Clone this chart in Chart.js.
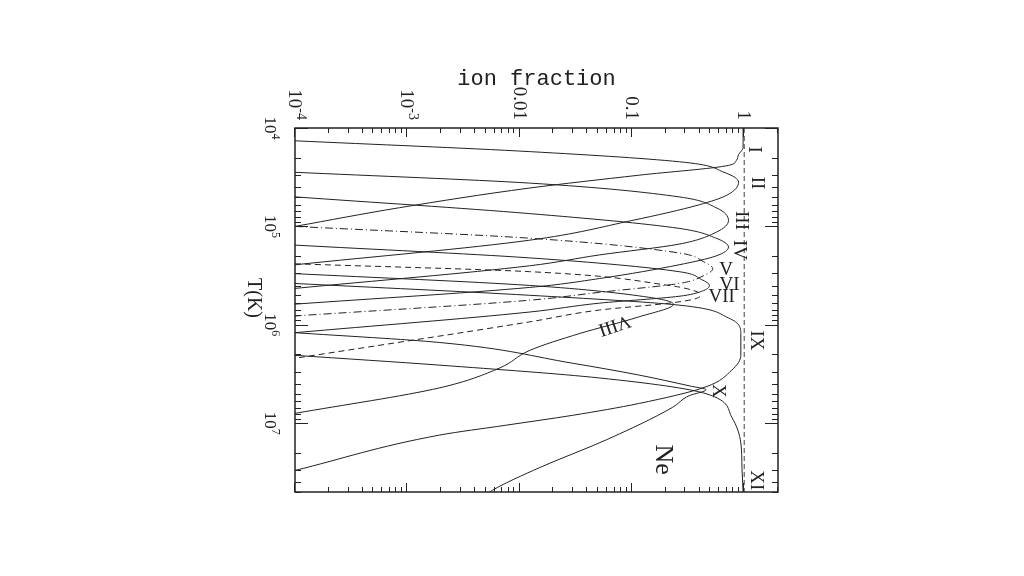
<!DOCTYPE html>
<html>
<head>
<meta charset="utf-8">
<script src="https://cdn.jsdelivr.net/npm/chart.js@4.4.0/dist/chart.umd.min.js"></script>
<style>
  html, body { margin: 0; padding: 0; background: #fff; }
  #wrap { position: relative; width: 1024px; height: 576px; overflow: hidden; }
  /* the figure is drawn landscape-rotated: T runs down the page, ion fraction across */
  #chart { position: absolute; left: 0; top: 0; transform-origin: 0 0; transform: translate(1024px, 0) rotate(90deg); }
</style>
</head>
<body>
<div id="wrap"><canvas id="chart" width="576" height="1024"></canvas></div>
<script>
// Ne ionization balance as log10(T) and log10(ion fraction)
const logT_I    = [4.00, 4.20, 4.27, 4.33, 4.38, 4.48, 4.61, 4.81, 5.00];
const logF_I    = [-0.01, -0.01, -0.05, -0.07, -0.14, -0.94, -1.91, -3.07, -4.0];
const logT_II   = [4.13, 4.24, 4.35, 4.45, 4.55, 4.68, 4.78, 4.94, 5.14, 5.39];
const logF_II   = [-4.0, -1.91, -0.52, -0.18, -0.05, -0.15, -0.40, -1.00, -1.91, -4.0];
const logT_III  = [4.45, 4.56, 4.70, 4.81, 4.94, 5.06, 5.18, 5.29, 5.40, 5.63];
const logF_III  = [-4.0, -1.91, -0.58, -0.25, -0.14, -0.25, -0.58, -1.29, -1.91, -4.0];
const logT_IV   = [4.70, 4.87, 5.02, 5.12, 5.21, 5.30, 5.39, 5.53, 5.62, 5.79];
const logF_IV   = [-4.0, -1.91, -0.58, -0.25, -0.14, -0.25, -0.58, -1.29, -1.91, -4.0];
const logT_V    = [5.00, 5.12, 5.27, 5.36, 5.43, 5.50, 5.58, 5.67, 5.75, 5.91];
const logF_V    = [-4.0, -1.91, -0.58, -0.36, -0.28, -0.36, -0.58, -1.29, -1.91, -4.0];
const logT_VI   = [5.19, 5.32, 5.46, 5.54, 5.60, 5.66, 5.71, 5.78, 5.87, 6.08];
const logF_VI   = [-4.0, -1.91, -0.58, -0.38, -0.31, -0.38, -0.58, -1.29, -1.91, -4.0];
const logT_VII  = [5.38, 5.46, 5.60, 5.66, 5.70, 5.74, 5.78, 5.85, 5.97, 6.34];
const logF_VII  = [-4.0, -1.91, -0.67, -0.43, -0.39, -0.45, -0.67, -1.29, -1.91, -4.0];
const logT_VIII = [5.48, 5.60, 5.72, 5.79, 5.92, 6.09, 6.26, 6.44, 6.64, 6.90];
const logF_VIII = [-4.0, -1.91, -0.85, -0.63, -0.94, -1.47, -1.91, -2.18, -2.71, -4.0];
const logT_IX   = [5.58, 5.70, 5.80, 5.93, 6.09, 6.31, 6.46, 6.63, 6.80, 6.92, 7.02, 7.12, 7.48];
const logF_IX   = [-4.0, -1.91, -0.58, -0.14, -0.03, -0.03, -0.11, -0.34, -0.94, -1.53, -2.12, -2.71, -4.0];
const logT_X    = [6.08, 6.18, 6.39, 6.51, 6.62, 6.66, 6.72, 6.84, 7.17, 7.45, 7.68, 7.78];
const logF_X    = [-4.0, -2.71, -1.53, -0.94, -0.49, -0.34, -0.49, -0.64, -1.23, -1.82, -2.24, -2.36];
const logT_XI   = [6.31, 6.41, 6.54, 6.70, 6.94, 7.20, 7.45, 7.70];
const logF_XI   = [-4.0, -2.71, -1.29, -0.34, -0.11, -0.03, -0.02, -0.01];

const ionNames = ['I', 'II', 'III', 'IV', 'V', 'VI', 'VII', 'VIII', 'IX', 'X', 'XI'];
const ionLogT = [logT_I, logT_II, logT_III, logT_IV, logT_V, logT_VI, logT_VII, logT_VIII, logT_IX, logT_X, logT_XI];
const ionLogF = [logF_I, logF_II, logF_III, logF_IV, logF_V, logF_VI, logF_VII, logF_VIII, logF_IX, logF_X, logF_XI];
const ionDash = { V: [8, 3, 1, 3], VII: [6, 4] };

// axis ranges and tick labels
const tMin = 1e4, tMax = 5e7;
const fMin = 1e-4, fMax = 2;
const tLabelExps = ['4', '5', '6', '7'];
const fTickValues = [1e-4, 1e-3, 0.01, 0.1, 1];
const fTickBases = ['10', '10', '0.01', '0.1', '1'];
const fTickExps = ['-4', '-3', '', '', ''];

// label positions: [name, log10 T, ion fraction, rotation in degrees]
const ionLabels = [
  ['I', 4.22, 1.22, 0], ['II', 4.56, 1.29, 0], ['III', 4.94, 0.93, 0],
  ['IV', 5.24, 0.90, 0], ['V', 5.44, 0.69, -90], ['VI', 5.60, 0.74, -90],
  ['VII', 5.72, 0.63, -90], ['VIII', 6.00, 0.07, 72], ['IX', 6.16, 1.27, 0],
  ['X', 6.67, 0.59, 0], ['XI', 7.58, 1.27, 0]
];
const elementLabel = ['Ne', 7.37, 0.19];

const datasets = ionNames.map((name, k) => ({
  label: 'Ne ' + name,
  data: ionLogT[k].map((t, i) => ({ x: 10 ** t, y: 10 ** ionLogF[k][i] })),
  borderColor: '#222',
  borderWidth: 1,
  borderDash: ionDash[name] || [],
  pointRadius: 0,
  cubicInterpolationMode: 'monotone',
  fill: false
}));
datasets.push({
  label: 'unity',
  data: [{ x: tMin, y: 1 }, { x: tMax, y: 1 }],
  borderColor: '#444',
  borderWidth: 1,
  borderDash: [5, 3],
  pointRadius: 0
});

function drawPow(ctx, base, exp, x, y, size, align) {
  ctx.font = size + 'px "Liberation Serif"';
  const wb = ctx.measureText(base).width;
  ctx.font = Math.round(size * 0.72) + 'px "Liberation Serif"';
  const we = exp ? ctx.measureText(exp).width : 0;
  const w = wb + we;
  let x0 = align === 'right' ? x - w : x - w / 2;
  ctx.textAlign = 'left';
  ctx.font = size + 'px "Liberation Serif"';
  ctx.fillText(base, x0, y);
  if (exp) {
    ctx.font = Math.round(size * 0.72) + 'px "Liberation Serif"';
    ctx.fillText(exp, x0 + wb, y - size * 0.42);
  }
}

const framePlugin = {
  id: 'framePlugin',
  afterDatasetsDraw(chart) {
    const { ctx, chartArea: a, scales: { x, y } } = chart;
    ctx.save();
    ctx.strokeStyle = '#222';
    ctx.fillStyle = '#222';
    ctx.lineWidth = 1.5;
    ctx.strokeRect(a.left, a.top, a.right - a.left, a.bottom - a.top);
    ctx.lineWidth = 1;
    ctx.beginPath();
    // temperature ticks on both long edges
    for (let d = 4; d <= 7; d++) {
      for (let m = 1; m <= 9; m++) {
        const v = m * 10 ** d;
        if (v > tMax) break;
        const px = Math.round(x.getPixelForValue(v)) + 0.5;
        const len = m === 1 ? 13 : 6;
        ctx.moveTo(px, a.bottom); ctx.lineTo(px, a.bottom - len);
        ctx.moveTo(px, a.top); ctx.lineTo(px, a.top + len);
      }
    }
    // fraction ticks
    for (let d = -4; d <= 0; d++) {
      for (let m = 1; m <= 9; m++) {
        const v = m * 10 ** d;
        if (v > fMax) break;
        const py = Math.round(y.getPixelForValue(v)) + 0.5;
        const len = m === 1 ? 9 : 5;
        ctx.moveTo(a.left, py); ctx.lineTo(a.left + len, py);
        ctx.moveTo(a.right, py); ctx.lineTo(a.right - len, py);
      }
    }
    ctx.stroke();

    // tick labels
    ctx.textBaseline = 'alphabetic';
    tLabelExps.forEach(e => {
      const px = x.getPixelForValue(10 ** Number(e));
      drawPow(ctx, '10', e, px, a.bottom + 30, 17, 'center');
    });
    fTickValues.forEach((v, i) => {
      const py = y.getPixelForValue(v);
      drawPow(ctx, fTickBases[i], fTickExps[i], a.left - 8, py + 6, 19, 'right');
    });

    // axis titles
    ctx.textAlign = 'center';
    ctx.textBaseline = 'middle';
    ctx.font = '20px "Liberation Serif"';
    ctx.fillText('T(K)', 298, a.bottom + 42);
    ctx.save();
    ctx.translate(79, (a.top + a.bottom) / 2);
    ctx.rotate(-Math.PI / 2);
    ctx.font = '22px "Liberation Mono"';
    ctx.fillText('ion fraction', 0, 0);
    ctx.restore();

    // ion labels
    ctx.font = '19px "Liberation Serif"';
    ionLabels.forEach(([name, lt, f, rot]) => {
      ctx.save();
      ctx.translate(x.getPixelForValue(10 ** lt), y.getPixelForValue(f));
      ctx.rotate(rot * Math.PI / 180);
      ctx.fillText(name, 0, 0);
      ctx.restore();
    });
    ctx.font = '26px "Liberation Serif"';
    ctx.fillText(elementLabel[0], x.getPixelForValue(10 ** elementLabel[1]), y.getPixelForValue(elementLabel[2]));
    ctx.restore();
  }
};

new Chart(document.getElementById('chart'), {
  type: 'line',
  data: { datasets },
  options: {
    responsive: false,
    animation: false,
    devicePixelRatio: 1,
    layout: { padding: { left: 128, right: 84, top: 246, bottom: 295 } },
    plugins: { legend: { display: false }, tooltip: { enabled: false } },
    scales: {
      x: { type: 'logarithmic', min: tMin, max: tMax, display: false },
      y: { type: 'logarithmic', min: fMin, max: fMax, display: false }
    }
  },
  plugins: [framePlugin]
});
</script>
</body>
</html>
